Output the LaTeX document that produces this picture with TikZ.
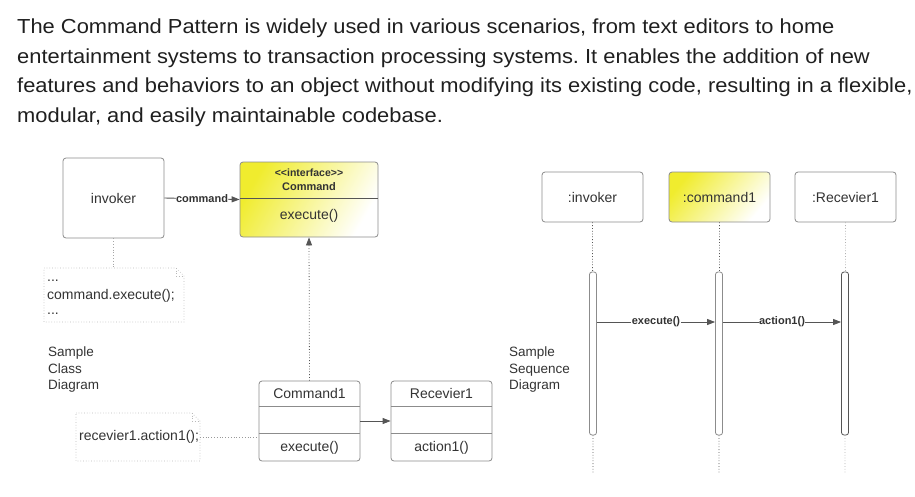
\documentclass[tikz,border=0pt]{standalone}
\usepackage{fontspec}
\setmainfont{Liberation Sans}
\newfontfamily\hdrfont[FakeStretch=1.078]{Liberation Sans}
\usetikzlibrary{arrows.meta,calc}
\definecolor{txt}{HTML}{333333}
\definecolor{hdr}{HTML}{1F1F1F}
\definecolor{bord}{HTML}{8C8C8C}
\definecolor{ylw}{HTML}{F0EC2E}
\definecolor{dline}{HTML}{555555}
\frenchspacing
\begin{document}
\begin{tikzpicture}[x=1pt,y=-1pt,
  box/.style={draw=bord, rounded corners=3pt, line width=0.8pt, fill=white, text=txt,
    font=\fontsize{14}{16}\selectfont, inner sep=0pt},
  ybox/.style={box, left color=ylw, middle color=ylw!75!white, right color=white, shading angle=60},
  plain/.style={text=txt, font=\fontsize{14}{16}\selectfont, inner sep=0pt},
  hline/.style={anchor=base west, inner sep=0pt, text=hdr, font=\hdrfont\fontsize{20.3}{24}\selectfont},
  lbl/.style={text=txt, font=\bfseries\fontsize{11}{12}\selectfont, inner sep=0.5pt, fill=white},
  conn/.style={draw=dline, line width=0.9pt, -{Triangle[length=8pt,width=6pt]}},
  dotconn/.style={draw=dline, line width=0.8pt, dotted},
  notebox/.style={draw=gray!55, line width=0.7pt, dotted},
  divider/.style={draw=dline, line width=0.7pt},
  bar/.style={draw=bord, rounded corners=2.5pt, line width=0.8pt, fill=white, minimum width=7pt, inner sep=0pt},
]
\useasboundingbox (0,0) rectangle (915,496);

% header
\node[hline] (h1) at (17,33) {The Command Pattern is widely used in various scenarios, from text editors to home};
\node[hline] (h2) at (17,63) {entertainment systems to transaction processing systems. It enables the addition of new};
\node[hline] (h3) at (17,92.5) {features and behaviors to an object without modifying its existing code, resulting in a flexible,};
\node[hline] (h4) at (17,122) {modular, and easily maintainable codebase.};

% ---------------- class diagram ----------------
\node[box, minimum width=101pt, minimum height=80pt] (inv) at (113.5,198) {invoker};

\node[ybox, minimum width=138pt, minimum height=75pt] (cmd) at (309,199.5) {};
\draw[divider] ($(cmd.north west)+(0,37)$) -- ($(cmd.north east)+(0,37)$);
\node[text=txt, font=\bfseries\fontsize{10.5}{12}\selectfont, inner sep=0pt] (cmdst) at (309,173) {{<}{<}interface{>}{>}};
\node[text=txt, font=\bfseries\fontsize{11}{12}\selectfont, inner sep=0pt] (cmdname) at (309,186.5) {Command};
\node[plain] (cmdop) at (309,216) {execute()};

\draw[conn] (inv.east) -- node[lbl] (cmdlbl) {command} (cmd.west);

% note 1
\draw[notebox] (44,268) -- (176,268) -- (184,276) -- (184,322) -- (44,322) -- cycle;
\draw[notebox] (176,268) -- (176,276) -- (184,276);
\coordinate (n1top) at (113.5,268);
\node[plain, anchor=west] (n1a) at (47,281) {...};
\node[plain, anchor=west] (n1b) at (47,295.5) {command.execute();};
\node[plain, anchor=west] (n1c) at (47,314) {...};
\draw[dotconn, draw=gray!70] (inv.south) -- (n1top);

% sample class diagram
\node[plain, anchor=north west, align=left, font=\fontsize{13.5}{16.5}\selectfont] (scd) at (48,347)
  {Sample\\Class\\Diagram};

% Command1
\node[box, minimum width=101pt, minimum height=80pt] (c1) at (309.5,421) {};
\draw[divider, draw=bord] ($(c1.north west)+(0,26)$) -- ($(c1.north east)+(0,26)$);
\draw[divider, draw=bord] ($(c1.north west)+(0,53)$) -- ($(c1.north east)+(0,53)$);
\node[plain] (c1name) at (309.5,393.5) {Command1};
\node[plain] (c1op) at (309.5,447.5) {execute()};

% Recevier1
\node[box, minimum width=101pt, minimum height=80pt] (r1) at (441.5,421) {};
\draw[divider, draw=bord] ($(r1.north west)+(0,26)$) -- ($(r1.north east)+(0,26)$);
\draw[divider, draw=bord] ($(r1.north west)+(0,53)$) -- ($(r1.north east)+(0,53)$);
\node[plain] (r1name) at (441.5,393.5) {Recevier1};
\node[plain] (r1op) at (441.5,447.5) {action1()};

\draw[conn, line width=0.8pt] (c1.east) -- (r1.west);
\draw[dotconn, -{Triangle[length=8pt,width=6pt]}] (c1.north) -- (cmd.south);

% note 2
\draw[notebox] (76,413) -- (192,413) -- (200,421) -- (200,461) -- (76,461) -- cycle;
\draw[notebox] (192,413) -- (192,421) -- (200,421);
\node[plain, anchor=west] (n2) at (79,437) {recevier1.action1();};
\coordinate (n2e) at (200,437);
\draw[dotconn, draw=gray!80] (n2e) -- (n2e -| c1.west);

% ---------------- sequence diagram ----------------
\node[box, minimum width=101pt, minimum height=50pt] (sinv) at (592.5,197) {:invoker};
\node[ybox, minimum width=101pt, minimum height=50pt, shading angle=50] (scmd) at (719.5,197) {:command1};
\node[box, minimum width=101pt, minimum height=50pt] (srcv) at (845.5,197) {:Recevier1};

\coordinate (e1) at (593,473);
\coordinate (e2) at (719,473);
\coordinate (e3) at (845,473);
\draw[dotconn] (sinv.south) -- (e1);
\draw[dotconn] (scmd.south) -- (e2);
\draw[dotconn, draw=gray!60] (srcv.south) -- (e3);

\node[bar, minimum height=163pt] (b1) at (593,353.5) {};
\node[bar, minimum height=163pt] (b2) at (719,353.5) {};
\node[bar, minimum height=163pt, draw=dline] (b3) at (845,353.5) {};

\draw[conn] (b1.east |- 0,322) -- node[lbl, pos=0.5] (l1) {execute()} (b2.west |- 0,322);
\draw[conn] (b2.east |- 0,322) -- node[lbl, pos=0.5] (l2) {action1()} (b3.west |- 0,322);

\node[plain, anchor=north west, align=left, font=\fontsize{13.5}{16.5}\selectfont] (ssd) at (509,347)
  {Sample\\Sequence\\Diagram};
\end{tikzpicture}
\end{document}
